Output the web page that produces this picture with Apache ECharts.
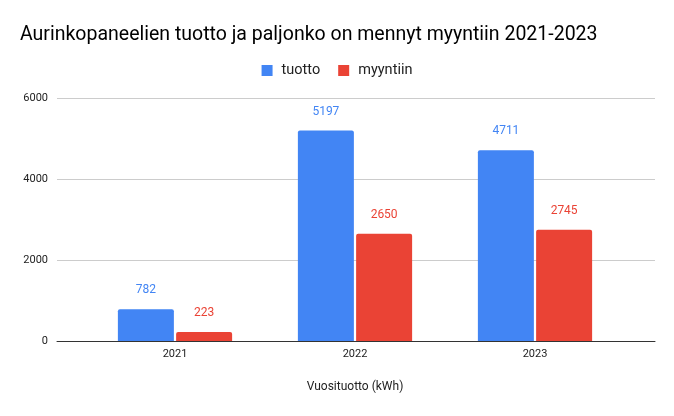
<!DOCTYPE html>
<html>
  <head>
    <meta charset="utf-8" />
    <title>ECharts</title>
    <script src="https://cdn.jsdelivr.net/npm/echarts@6/dist/echarts.min.js"></script>
    <style>
      body { margin: 0; background: #fff; }
    </style>
  </head>

  <body>
    <div id="main" style="width: 674px; height: 416px"></div>
    <script type="text/javascript">
      var years = ["2021", "2022", "2023"];
      var tuotto = [782, 5197, 4711];
      var myyntiin = [223, 2650, 2745];
      var yTicks = [0, 2000, 4000, 6000];

      var myChart = echarts.init(document.getElementById("main"));
      var font = "Roboto, Arial, sans-serif";

      // grid 0 = full-width frame (gridlines, y labels, baseline)
      // grid 1 = narrower area where the bars sit, like in the sheets chart
      option = {
        textStyle: { fontFamily: font },
        title: {
          text: "Aurinkopaneelien tuotto ja paljonko on mennyt myyntiin 2021-2023",
          left: 15,
          top: 20,
          textStyle: { fontSize: 19.5, fontWeight: "normal", color: "#000", fontFamily: font },
        },
        legend: {
          top: 58,
          left: "center",
          itemWidth: 11,
          itemHeight: 11,
          itemGap: 18,
          icon: "rect",
          textStyle: { fontSize: 14.5, color: "#222", fontFamily: font, padding: [0, 0, 0, 4] },
          data: ["tuotto", "myyntiin"],
        },
        grid: [
          { left: 57, right: 19, top: 98, bottom: 75 },
          { left: 85, right: 49, top: 98, bottom: 75 },
        ],
        xAxis: [
          {
            gridIndex: 0,
            type: "value",
            min: 0,
            max: 1,
            axisLabel: { show: false },
            axisTick: { show: false },
            splitLine: { show: false },
            axisLine: { show: true, onZero: false, lineStyle: { color: "#333" } },
          },
          {
            gridIndex: 1,
            type: "category",
            data: years,
            name: "Vuosituotto (kWh)",
            nameLocation: "middle",
            nameGap: 40,
            nameTextStyle: { fontSize: 12, color: "#222" },
            axisTick: { show: false },
            axisLine: { show: false },
            axisLabel: { fontSize: 11, color: "#222", margin: 8 },
          },
        ],
        yAxis: [
          {
            gridIndex: 0,
            type: "value",
            min: yTicks[0],
            max: yTicks[yTicks.length - 1],
            interval: yTicks[1] - yTicks[0],
            axisLine: { show: false },
            axisTick: { show: false },
            axisLabel: {
              fontSize: 11,
              color: "#222",
              margin: 9,
              formatter: function (v) { return String(v); },
            },
            splitLine: { lineStyle: { color: "#ccc" } },
          },
          {
            gridIndex: 1,
            type: "value",
            min: yTicks[0],
            max: yTicks[yTicks.length - 1],
            interval: yTicks[1] - yTicks[0],
            show: false,
            splitLine: { show: false },
          },
        ],
        series: [
          {
            name: "tuotto",
            type: "bar",
            xAxisIndex: 1,
            yAxisIndex: 1,
            data: tuotto,
            barWidth: 56,
            barGap: "4%",
            z: 3,
            itemStyle: { color: "#4285F4", borderRadius: [2, 2, 0, 0] },
            label: { show: true, position: "top", distance: 13, color: "#4285F4", fontSize: 12 },
          },
          {
            name: "myyntiin",
            type: "bar",
            xAxisIndex: 1,
            yAxisIndex: 1,
            data: myyntiin,
            barWidth: 56,
            z: 3,
            itemStyle: { color: "#EA4335", borderRadius: [2, 2, 0, 0] },
            label: { show: true, position: "top", distance: 13, color: "#EA4335", fontSize: 12 },
          },
        ],
      };

      myChart.setOption(option);
    </script>
  </body>
</html>
